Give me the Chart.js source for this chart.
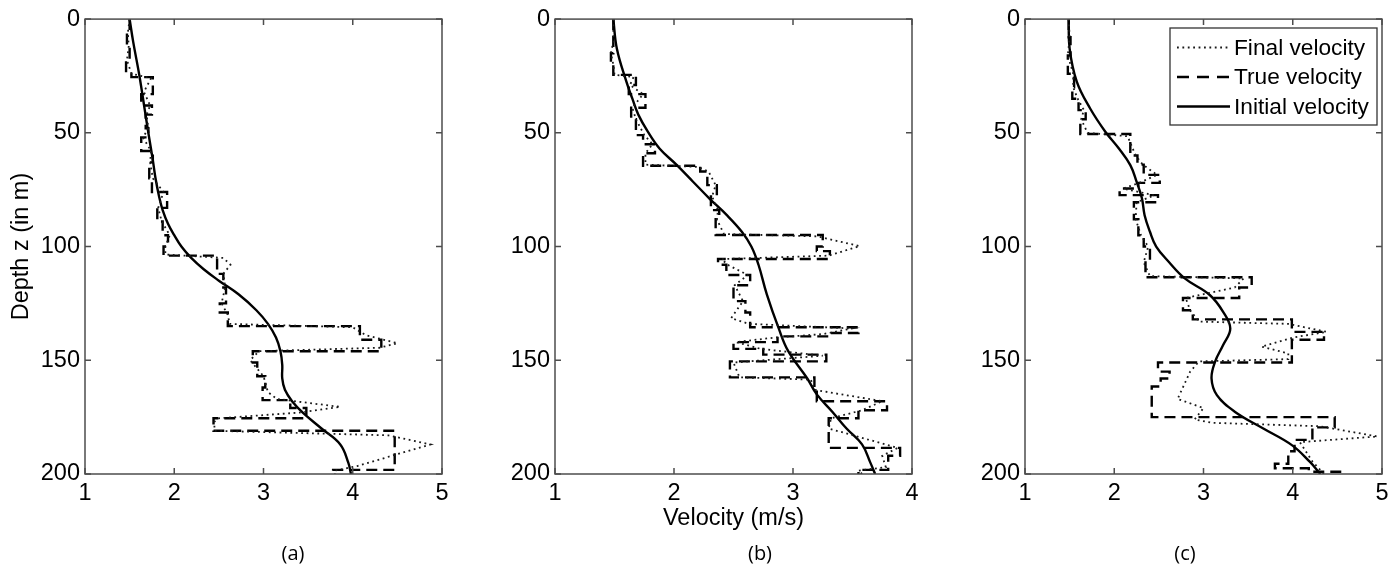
<!DOCTYPE html>
<html>
<head>
<meta charset="utf-8">
<script src="https://cdn.jsdelivr.net/npm/chart.js@4.4.1/dist/chart.umd.min.js"></script>
<style>
html,body{margin:0;padding:0;background:#fff;width:1395px;height:566px;overflow:hidden;}
canvas{position:absolute;top:0;}
.cap{position:absolute;top:541px;font-family:"Open Sans","DejaVu Sans",sans-serif;font-size:20px;line-height:24px;color:#000;transform:translateX(-50%);white-space:nowrap;}
</style>
</head>
<body>
<canvas id="ca" width="460" height="566" style="left:0px"></canvas>
<canvas id="cb" width="470" height="566" style="left:460px"></canvas>
<canvas id="cc" width="465" height="566" style="left:930px"></canvas>
<div class="cap" style="left:293px">(a)</div>
<div class="cap" style="left:760px">(b)</div>
<div class="cap" style="left:1185px">(c)</div>
<script>
// ---------- tick labels / categories ----------
const depthTicks = [0, 50, 100, 150, 200];
const velTicksA = [1, 2, 3, 4, 5];
const velTicksB = [1, 2, 3, 4];
const velTicksC = [1, 2, 3, 4, 5];
const seriesNames = ['Final velocity', 'True velocity', 'Initial velocity'];
const depthTitle = 'Depth z (in m)';
const velTitle = 'Velocity (m/s)';

// ---------- panel (a) ----------
const aInitDepth = [0,10,25,40,50,62,70,78,84,90,95,100,105,110,115,121,128,134,140,146,152,158,163,168,173,180,187,195,200];
const aInitVel   = [1.50,1.54,1.61,1.67,1.71,1.76,1.79,1.83,1.87,1.93,2.00,2.08,2.19,2.33,2.50,2.72,2.92,3.05,3.14,3.19,3.21,3.21,3.24,3.32,3.44,3.65,3.86,3.95,3.98];
const aTrueDepth = [0,6,12,18,24,25.5,33,38,42,48,52,58,63,70,76,83,89,95,100,104,112,118,125,129,135,141,146,151,157,162,167.5,171,175.5,181,198.2,200];
const aTrueVel   = [1.50,1.47,1.50,1.46,1.52,1.76,1.63,1.75,1.68,1.71,1.63,1.76,1.72,1.75,1.92,1.81,1.87,1.93,1.88,2.48,2.55,2.58,2.51,2.60,4.08,4.32,2.88,2.93,3.02,2.99,3.30,3.48,2.44,4.47,3.78,3.78];
const aFinalDepth = [0,6,12,18,24,26,32,38,42,48,52,58,63,70,76,83,89,95,100,103.5,105,108,112,118,125,130,134,135.5,139,142.5,144.5,146,150,157,164,167,170.5,173,175.5,177,181,183,187,196.5,198.5,200];
const aFinalVel   = [1.50,1.48,1.49,1.47,1.52,1.74,1.66,1.73,1.69,1.71,1.65,1.74,1.73,1.76,1.88,1.82,1.86,1.95,1.90,1.90,2.55,2.63,2.55,2.57,2.53,2.60,2.62,4.00,4.15,4.50,4.30,2.95,2.85,3.00,3.05,3.15,3.86,3.40,2.50,2.45,2.45,4.40,4.87,4.05,3.80,3.80];

// ---------- panel (b) ----------
const bInitDepth = [0,13,27.5,35,42,49.5,57,64,71.5,79,86,93.5,100,108,121,136,146,158,165,172.6,180,187,195,200];
const bInitVel   = [1.49,1.52,1.60,1.65,1.70,1.78,1.88,2.02,2.16,2.30,2.44,2.57,2.65,2.71,2.78,2.88,2.96,3.12,3.20,3.33,3.45,3.58,3.65,3.69];
const bTrueDepth = [0,10,15,20,24.5,29,33,39,44,51,55,59,64.5,67,73,78,84,88,94.9,100,102,105.5,108,112.5,117,124,129,135.5,138,139.5,142,145,147.5,150.5,157.5,163,168,172,175.5,188.5,192,198.2,200];
const bTrueVel   = [1.49,1.49,1.47,1.49,1.68,1.62,1.76,1.64,1.68,1.74,1.84,1.74,2.22,2.28,2.36,2.31,2.38,2.35,3.25,3.20,3.31,2.37,2.44,2.64,2.50,2.60,2.64,3.55,3.31,2.87,2.50,2.75,3.28,2.47,3.18,3.20,3.79,3.55,3.30,3.90,3.80,3.55,3.55];
const bFinalDepth = [0,10,15,20,24.5,25.5,29,33,39,44,51,55,59,64,65,67,73,78,84,88,94.5,95.5,99.8,104,105.5,108,112.5,117,124,131.5,134,136,138.5,140,142,145,148,151,157.5,158.5,163,168,172,175.5,180,188.5,192,197,198.5,200];
const bFinalVel   = [1.49,1.49,1.47,1.49,1.50,1.66,1.63,1.74,1.65,1.68,1.75,1.82,1.76,1.76,2.20,2.29,2.35,2.32,2.37,2.36,2.42,3.20,3.56,3.30,2.40,2.45,2.62,2.51,2.58,2.48,2.63,3.50,3.25,2.85,2.52,2.73,3.25,2.50,2.55,3.15,3.18,3.75,3.58,3.32,3.30,3.88,3.75,3.78,3.55,3.58];

// ---------- panel (c) ----------
const cInitDepth = [0,13,27.5,39.3,49.5,56.8,64.2,71.5,78.8,86.2,93.5,100,106.7,114,121.3,128.7,136,143.3,150.6,158,165.3,172.6,180,187.3,194.6,200];
const cInitVel   = [1.49,1.50,1.58,1.73,1.90,2.05,2.18,2.25,2.31,2.34,2.40,2.47,2.61,2.79,3.07,3.22,3.30,3.22,3.13,3.09,3.15,3.35,3.67,3.99,4.19,4.31];
const cTrueDepth = [0,8,16,24,30,35,40,44,50.5,60,64,68.5,72,74.5,77.4,80.5,88,95,100,107,113.5,118,122.6,128,132,137.5,141,151,155,158,161.5,175,179.5,185,190,195.5,197.5,199,200];
const cTrueVel   = [1.49,1.51,1.48,1.55,1.53,1.60,1.68,1.62,2.18,2.26,2.33,2.51,2.27,2.06,2.49,2.22,2.27,2.33,2.40,2.35,3.54,3.40,2.77,2.88,3.99,4.35,3.99,2.49,2.62,2.52,2.42,4.47,4.22,4.02,3.95,3.80,4.18,4.57,4.57];
const cFinalDepth = [0,8,16,24,30,35,40,44,50,51.5,60,64,68.5,72,74.5,77.5,80.5,88,95,100,107,113,114,118,122.6,128,133,134,137.5,140,144,147,149.5,150.5,155,161,167,171,176,177.5,179,183.5,186,194.5,200];
const cFinalVel   = [1.49,1.50,1.48,1.54,1.54,1.59,1.66,1.63,1.70,2.15,2.24,2.32,2.48,2.28,2.10,2.45,2.25,2.24,2.30,2.38,2.33,2.40,3.45,3.35,2.80,2.85,2.95,3.95,4.38,4.00,3.65,3.95,3.95,2.95,2.85,2.78,2.71,3.00,2.90,3.10,4.30,4.95,4.08,4.22,4.35];

// ---------- rendering ----------
const FONT = '"Liberation Sans", Arial, Helvetica, sans-serif';
const TICK_SIZE = 23.5;
Chart.defaults.font.family = FONT;
Chart.defaults.color = '#000';

function pts(depths, vels) { return depths.map((z, i) => ({ x: vels[i], y: z })); }

const framePlugin = {
  id: 'frameTicks',
  afterDatasetsDraw(chart) {
    const { ctx, chartArea: a, scales: { x, y } } = chart;
    ctx.save();
    ctx.strokeStyle = '#4d4d4d';
    ctx.lineWidth = 1.5;
    ctx.setLineDash([]);
    ctx.strokeRect(a.left, a.top, a.right - a.left, a.bottom - a.top);
    const tl = 6;
    ctx.beginPath();
    x.ticks.forEach(t => {
      const px = x.getPixelForValue(t.value);
      ctx.moveTo(px, a.top); ctx.lineTo(px, a.top + tl);
      ctx.moveTo(px, a.bottom); ctx.lineTo(px, a.bottom - tl);
    });
    y.ticks.forEach(t => {
      const py = y.getPixelForValue(t.value);
      ctx.moveTo(a.left, py); ctx.lineTo(a.left + tl, py);
      ctx.moveTo(a.right, py); ctx.lineTo(a.right - tl, py);
    });
    ctx.stroke();
    ctx.restore();
  }
};

const legendPlugin = {
  id: 'profileLegend',
  afterDraw(chart, args, o) {
    if (!o || !o.show) return;
    const ctx = chart.ctx;
    ctx.save();
    ctx.fillStyle = '#fff';
    ctx.fillRect(o.x, o.y, o.w, o.h);
    ctx.strokeStyle = '#333';
    ctx.lineWidth = 1.3;
    ctx.setLineDash([]);
    ctx.strokeRect(o.x, o.y, o.w, o.h);
    chart.data.datasets.forEach((ds, i) => {
      const yy = o.y + o.rowTop + i * o.rowGap;
      ctx.strokeStyle = ds.borderColor;
      ctx.lineWidth = ds.borderWidth;
      ctx.setLineDash(ds.legendDash || []);
      ctx.beginPath();
      ctx.moveTo(o.x + 7, yy);
      ctx.lineTo(o.x + 60, yy);
      ctx.stroke();
      ctx.setLineDash([]);
      ctx.fillStyle = '#000';
      ctx.font = '22.7px ' + FONT;
      ctx.textBaseline = 'middle';
      ctx.textAlign = 'left';
      ctx.fillText(ds.label, o.x + 64, yy + 1);
    });
    ctx.restore();
  }
};

function makeChart(id, p) {
  const datasets = [
    { label: seriesNames[0], data: pts(p.finalD, p.finalV), borderColor: '#1a1a1a', borderWidth: 1.8,
      borderDash: [1.8, 3.6], legendDash: [1.8, 3.6], tension: 0, pointRadius: 0, showLine: true },
    { label: seriesNames[1], data: pts(p.trueD, p.trueV), borderColor: '#000', borderWidth: 2.4,
      borderDash: [11, 6], legendDash: [12, 8], stepped: 'after', pointRadius: 0, showLine: true },
    { label: seriesNames[2], data: pts(p.initD, p.initV), borderColor: '#000', borderWidth: 2.4,
      tension: 0.4, pointRadius: 0, showLine: true }
  ];
  return new Chart(document.getElementById(id), {
    type: 'scatter',
    data: { datasets },
    options: {
      responsive: false,
      animation: false,
      devicePixelRatio: 1,
      layout: { padding: { top: 19, right: p.padRight, left: 0, bottom: 0 } },
      plugins: {
        legend: { display: false },
        tooltip: { enabled: false },
        profileLegend: p.legend || { show: false }
      },
      scales: {
        x: {
          type: 'linear', position: 'bottom', min: p.xTicks[0], max: p.xTicks[p.xTicks.length - 1],
          afterBuildTicks: s => { s.ticks = p.xTicks.map(v => ({ value: v })); },
          afterFit: s => { s.height = 92; },
          grid: { display: false, drawTicks: false },
          border: { display: false },
          ticks: { font: { size: TICK_SIZE }, color: '#000', padding: 5, maxRotation: 0, autoSkip: false },
          title: p.xTitle ? { display: true, text: p.xTitle, font: { size: TICK_SIZE }, color: '#000', padding: { top: 0, bottom: 33 } } : { display: false }
        },
        y: {
          type: 'linear', position: 'left', reverse: true, min: 0, max: 200,
          afterBuildTicks: s => { s.ticks = depthTicks.map(v => ({ value: v })); },
          afterFit: s => { s.width = p.yWidth; },
          grid: { display: false, drawTicks: false },
          border: { display: false },
          ticks: { font: { size: TICK_SIZE }, color: '#000', padding: 5, autoSkip: false },
          title: p.yTitle ? { display: true, text: p.yTitle, font: { size: TICK_SIZE }, color: '#000', padding: { top: 7, bottom: 0 } } : { display: false }
        }
      }
    },
    plugins: [framePlugin, legendPlugin]
  });
}

makeChart('ca', { initD: aInitDepth, initV: aInitVel, trueD: aTrueDepth, trueV: aTrueVel, finalD: aFinalDepth, finalV: aFinalVel,
  xTicks: velTicksA, yWidth: 85, padRight: 18, yTitle: depthTitle });
makeChart('cb', { initD: bInitDepth, initV: bInitVel, trueD: bTrueDepth, trueV: bTrueVel, finalD: bFinalDepth, finalV: bFinalVel,
  xTicks: velTicksB, yWidth: 95, padRight: 18, xTitle: velTitle });
makeChart('cc', { initD: cInitDepth, initV: cInitVel, trueD: cTrueDepth, trueV: cTrueVel, finalD: cFinalDepth, finalV: cFinalVel,
  xTicks: velTicksC, yWidth: 95, padRight: 13,
  legend: { show: true, x: 240, y: 28, w: 207, h: 97, rowTop: 19.5, rowGap: 29.5 } });
</script>
</body>
</html>
